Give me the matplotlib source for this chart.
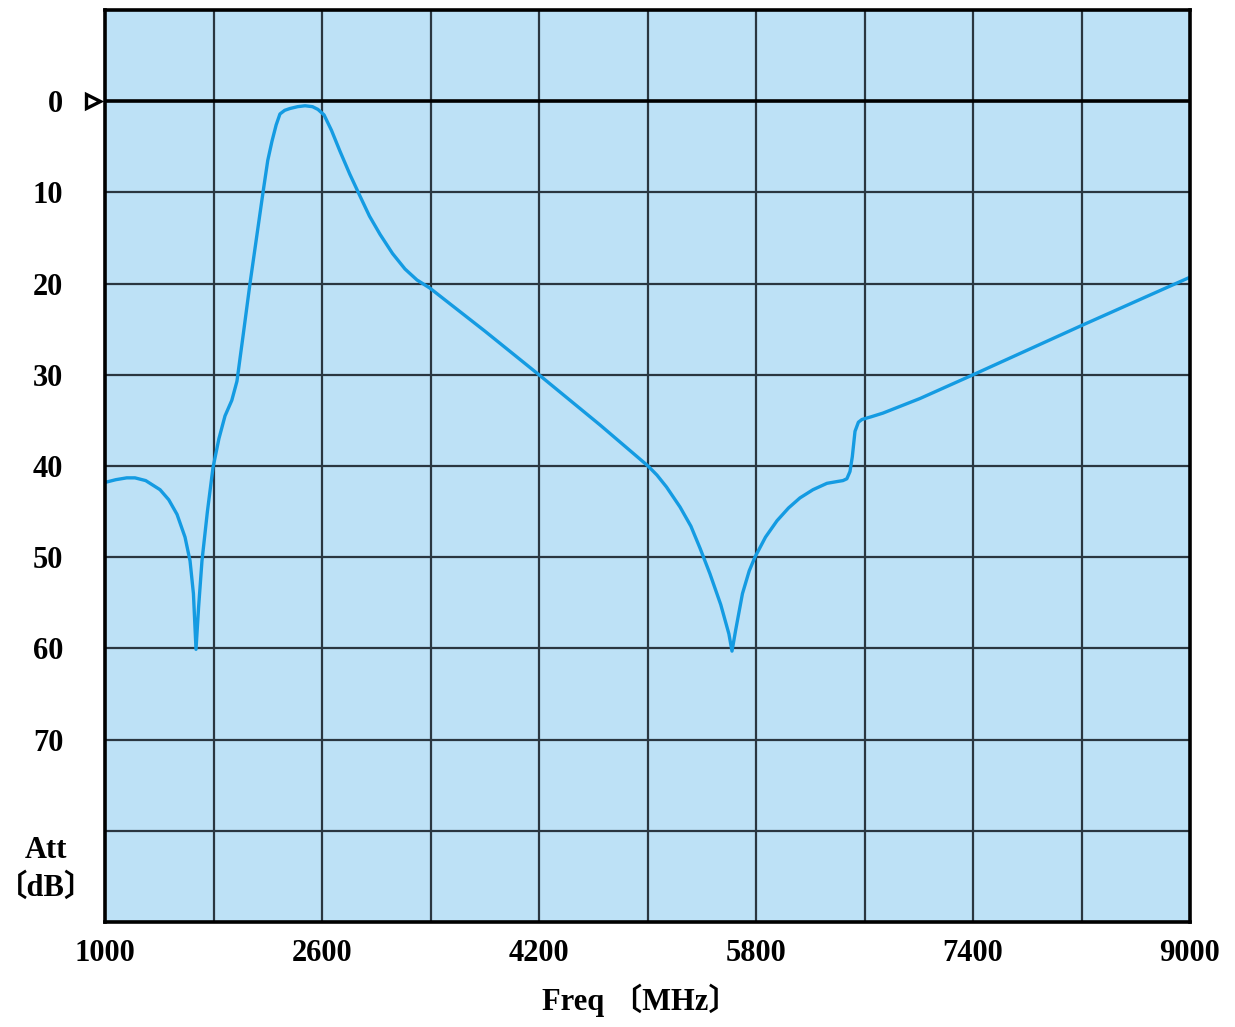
import numpy as np
import matplotlib
matplotlib.use('Agg')
from matplotlib import pyplot as plt

# attenuation curve (MHz, dB)
freq = [1000, 1080, 1160, 1221, 1300, 1406, 1470, 1531, 1590, 1627, 1652, 1671,
        1690, 1715, 1755, 1796, 1840, 1885, 1935, 1973, 2020, 2069, 2117, 2165,
        2200, 2231, 2262, 2290, 2325, 2364, 2420, 2475, 2530, 2570, 2615, 2670,
        2733, 2805, 2880, 2950, 3028, 3120, 3212, 3300, 3396, 3800, 4200, 4650,
        5004, 5070, 5140, 5240, 5320, 5387, 5460, 5540, 5600, 5623, 5650, 5700,
        5750, 5792, 5870, 5955, 6040, 6124, 6220, 6323, 6400, 6441, 6470, 6493,
        6510, 6530, 6555, 6581, 6650, 6736, 7009, 7400, 8200, 9000]
att = [41.8, 41.5, 41.3, 41.3, 41.6, 42.6, 43.7, 45.3, 47.8, 50.4, 54.0, 60.1,
       55.5, 50.4, 45.0, 40.2, 37.0, 34.5, 32.8, 30.7, 25.5, 20.0, 15.0, 10.0,
       6.5, 4.4, 2.6, 1.4, 1.0, 0.8, 0.6, 0.5, 0.6, 0.9, 1.5, 3.2,
       5.5, 8.0, 10.4, 12.6, 14.6, 16.7, 18.4, 19.6, 20.5, 25.2, 30.0, 35.5,
       40.0, 41.0, 42.3, 44.5, 46.6, 49.0, 51.8, 55.2, 58.4, 60.3, 58.0, 54.0,
       51.5, 50.0, 47.8, 46.0, 44.6, 43.5, 42.6, 41.9, 41.7, 41.6, 41.4, 40.6,
       39.0, 36.2, 35.2, 34.9, 34.6, 34.2, 32.6, 30.0, 24.6, 19.3]

xticks = [1000, 2600, 4200, 5800, 7400, 9000]
yticks = [0, 10, 20, 30, 40, 50, 60, 70, 80]
ylabels = ['0', '10', '20', '30', '40', '50', '60', '70', '']

serif = ['Liberation Serif', 'Noto Sans CJK JP']

fig = plt.figure(figsize=(12.35, 10.27), dpi=100)
ax = fig.add_axes([105 / 1235, 1 - 922 / 1027, 1085 / 1235, 912 / 1027])
ax.set_facecolor('#bde1f6')

ax.set_xlim(1000, 9000)
ax.set_ylim(90, -10)

for x in np.arange(1800, 9000, 800):
    ax.axvline(x, color='#2a3640', lw=1.6, zorder=1)
for y in range(10, 90, 10):
    ax.axhline(y, color='#2a3640', lw=1.6, zorder=1)
ax.axhline(0, color='black', lw=2.6, zorder=2)

ax.plot(freq, att, color='#149be2', lw=2.4, zorder=3, solid_joinstyle='round')

# reference marker at 0 dB
ax.plot([-0.011], [0], marker='>', markersize=10, markerfacecolor='none',
        markeredgecolor='black', markeredgewidth=2.4,
        transform=ax.get_yaxis_transform(), clip_on=False, zorder=5)

ax.set_xticks(xticks)
ax.set_xticklabels([str(t) for t in xticks], fontfamily=serif,
                   fontweight='bold', fontsize=22)
ax.set_yticks(yticks)
ax.set_yticklabels(ylabels, fontfamily=serif, fontweight='bold', fontsize=22)
ax.tick_params(axis='both', length=0)
ax.tick_params(axis='x', pad=12)
ax.tick_params(axis='y', pad=30)

for s in ax.spines.values():
    s.set_linewidth(2.6)
    s.set_color('black')
    s.set_zorder(6)

fig.text(46 / 1235, 1 - 851 / 1027, 'Att', fontfamily=serif, fontweight='bold',
         fontsize=22, ha='center', va='center')
fig.text(46 / 1235, 1 - 888 / 1027, '〔dB〕', fontfamily=serif, fontweight='bold',
         fontsize=22, ha='center', va='center')
fig.text(640 / 1235, 1 - 1000 / 1027, 'Freq 〔MHz〕', fontfamily=serif,
         fontweight='bold', fontsize=22, ha='center', va='center')

fig.savefig('out.png', dpi=100)
